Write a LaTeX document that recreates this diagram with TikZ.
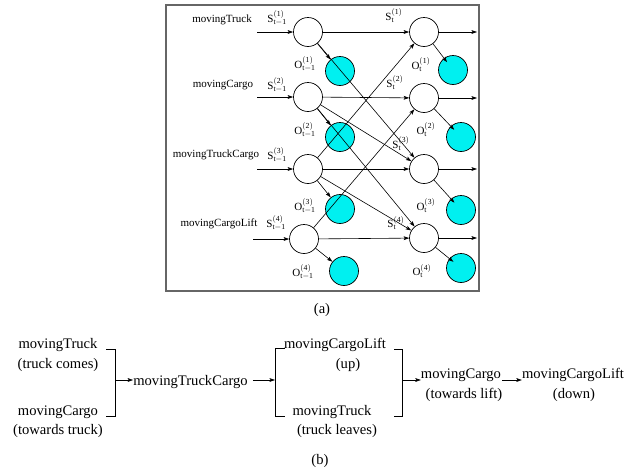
\documentclass[tikz,border=0pt]{standalone}
\usepackage{fontspec}
\setmainfont{Liberation Serif}
\usetikzlibrary{arrows.meta}
\definecolor{obscyan}{RGB}{0,240,240}
\newcommand\lbl[3]{#1$^{\mathrm{(#2)}}_{\mathrm{#3}}$}
\begin{document}
\begin{tikzpicture}[x=1pt,y=-1pt,
  arr/.style={-{Stealth[length=5.5pt,width=3.8pt,inset=1.2pt]},line width=0.6pt},
  st/.style={circle,draw,line width=0.7pt,minimum size=29pt,inner sep=0pt,fill=white},
  ob/.style={circle,draw,line width=0.7pt,minimum size=29pt,inner sep=0pt,fill=obscyan},
  sm/.style={font=\fontsize{11}{13}\selectfont,inner sep=0pt},
  bg/.style={font=\fontsize{14.6}{17}\selectfont,inner sep=0pt,anchor=base},
  brk/.style={line width=0.8pt}]
\useasboundingbox (0,0) rectangle (637,469);
% frame
\draw[line width=1.2pt,draw=black!60] (166,5) rectangle (479,291);
% state circles
\node[st] (L1) at (308,32) {};
\node[st] (L2) at (308,97) {};
\node[st] (L3) at (308,169) {};
\node[st] (L4) at (304,239) {};
\node[st] (R1) at (424,32) {};
\node[st] (R2) at (424,98) {};
\node[st] (R3) at (424,169) {};
\node[st] (R4) at (424,238) {};
% observation circles
\node[ob] (LC1) at (340,71) {};
\node[ob] (LC2) at (340,137) {};
\node[ob] (LC3) at (340,209) {};
\node[ob] (LC4) at (344,271) {};
\node[ob] (RC1) at (453,70) {};
\node[ob] (RC2) at (461,137) {};
\node[ob] (RC3) at (461,210) {};
\node[ob] (RC4) at (461,268) {};
% inputs / outputs
\coordinate (i1) at (257,32);
\coordinate (i2) at (257,97);
\coordinate (i3) at (257,169);
\coordinate (i4) at (253,239);
\coordinate (o1) at (477,32);
\coordinate (o2) at (477,98);
\coordinate (o3) at (477,169);
\coordinate (o4) at (477,238);
\foreach \k in {1,2,3,4}{
  \draw[arr] (i\k) -- (L\k);
  \draw[arr] (R\k) -- (o\k);
  \draw[arr] (L\k) -- (LC\k);
  \draw[arr,shorten >=-5pt] (R\k) -- (RC\k);
  \draw[arr] (L\k) -- (R\k);
}
% transitions
\draw[arr] (L1) -- (R3);
\draw[arr] (L2) -- (R3);
\draw[arr] (L2) -- (R4);
\draw[arr] (L3) -- (R1);
\draw[arr] (L3) -- (R4);
\draw[arr] (L4) -- (R2);
% state names
\node[sm] (n1) at (222,20) {movingTruck};
\node[sm] (n2) at (223,85) {movingCargo};
\node[sm] (n3) at (216,155) {movingTruckCargo};
\node[sm] (n4) at (219,224) {movingCargoLift};
% labels
\node[sm] (sl1) at (277,18) {\lbl{S}{1}{t-1}};
\node[sm] (sl2) at (277,85) {\lbl{S}{2}{t-1}};
\node[sm] (sl3) at (277,155) {\lbl{S}{3}{t-1}};
\node[sm] (sl4) at (276,223) {\lbl{S}{4}{t-1}};
\node[sm] (ol1) at (305,64) {\lbl{O}{1}{t-1}};
\node[sm] (ol2) at (305,130) {\lbl{O}{2}{t-1}};
\node[sm] (ol3) at (305,206) {\lbl{O}{3}{t-1}};
\node[sm] (ol4) at (303,272) {\lbl{O}{4}{t-1}};
\node[sm] (sr1) at (394,16) {\lbl{S}{1}{t}};
\node[sm] (sr2) at (395,83) {\lbl{S}{2}{t}};
\node[sm] (sr3) at (401,144) {\lbl{S}{3}{t}};
\node[sm] (sr4) at (396,223) {\lbl{S}{4}{t}};
\node[sm] (or1) at (421,65) {\lbl{O}{1}{t}};
\node[sm] (or2) at (426,130) {\lbl{O}{2}{t}};
\node[sm] (or3) at (426,206) {\lbl{O}{3}{t}};
\node[sm] (or4) at (422,271) {\lbl{O}{4}{t}};
\node[bg] (capa) at (322,313) {(a)};
% ---------- part (b)
\node[bg] (A1) at (58,348.5) {movingTruck};
\node[bg] (A2) at (58,368) {(truck comes)};
\node[bg] (B1) at (58,415.5) {movingCargo};
\node[bg] (B2) at (58,434.5) {(towards truck)};
\node[bg] (C) at (190.5,385) {movingTruckCargo};
\node[bg] (D1) at (335,348) {movingCargoLift};
\node[bg] (D2) at (348,368) {(up)};
\node[bg] (D3) at (332,415) {movingTruck};
\node[bg] (D4) at (337,434) {(truck leaves)};
\node[bg] (E1) at (461,378) {movingCargo};
\node[bg] (E2) at (464,398) {(towards lift)};
\node[bg] (F1) at (573,378) {movingCargoLift};
\node[bg] (F2) at (574,398) {(down)};
\node[bg] (capb) at (320,464.5) {(b)};
% brackets
\draw[brk] (106,349) -- (115,349) -- (115,416) -- (106,416);
\draw[brk] (285,348) -- (275,348) -- (275,416) -- (285,416);
\draw[brk] (394,349) -- (402,349) -- (402,416) -- (394,416);
\coordinate (b1) at (115,380);
\coordinate (b2) at (275,380);
\coordinate (b3) at (402,380);
\draw[arr] (b1) -- (b1 -| C.west);
\draw[arr] ([xshift=5pt]C.east |- b2) -- (b2);
\draw[arr] (b3) -- (b3 -| E1.west);
\draw[arr] ([xshift=1pt]E1.east |- b3) -- (b3 -| F1.west);
\end{tikzpicture}
\end{document}
